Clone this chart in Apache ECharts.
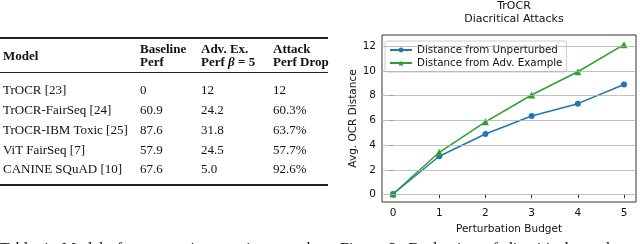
<!DOCTYPE html>
<html><head><meta charset="utf-8">
<script src="https://cdn.jsdelivr.net/npm/echarts@6/dist/echarts.min.js"></script>
<style>
html,body{margin:0;padding:0;background:#fff;}
#wrap{position:relative;width:640px;height:244px;overflow:hidden;}
#chart{position:absolute;left:0;top:0;width:640px;height:244px;}
#tbl{position:absolute;left:0;top:0;width:330px;height:244px;font-family:"Liberation Serif","DejaVu Serif",serif;font-size:13px;color:#111;}
.t{position:absolute;white-space:nowrap;line-height:14px;}
.b{font-weight:bold;}
.rule{position:absolute;left:0;background:#222;}
#cap{position:absolute;left:0;top:240px;width:640px;font-family:"Liberation Serif",serif;font-size:16px;line-height:18px;white-space:nowrap;color:#111;word-spacing:3px;}
</style></head>
<body><div id="wrap"><div id="chart"></div><div id="tbl"></div><div id="cap"></div></div>
<script>
// ---- data ----
const tableHeaders = [["Model"], ["Baseline", "Perf"], ["Adv. Ex.", "Perf <i>β</i> = 5"], ["Attack", "Perf Drop"]];
const models = ["TrOCR [23]", "TrOCR-FairSeq [24]", "TrOCR-IBM Toxic [25]", "ViT FairSeq [7]", "CANINE SQuAD [10]"];
const baselinePerf = ["0", "60.9", "87.6", "57.9", "67.6"];
const advPerf = ["12", "24.2", "31.8", "24.5", "5.0"];
const perfDrop = ["12", "60.3%", "63.7%", "57.7%", "92.6%"];

const budgets = [0, 1, 2, 3, 4, 5];
const distUnperturbed = [0.05, 3.1, 4.9, 6.35, 7.35, 8.9];
const distAdvExample = [0.05, 3.42, 5.88, 8.05, 9.93, 12.12];
const xTicks = [0, 1, 2, 3, 4, 5];
const yTicks = [0, 2, 4, 6, 8, 10, 12];

// ---- table ----
const tbl = document.getElementById('tbl');
const colX = [3, 140, 201, 273];
const rowY = [90, 110, 130, 150, 169];
function addText(x, y, html, cls) {
  const d = document.createElement('div');
  d.className = 't ' + (cls || '');
  d.style.left = x + 'px'; d.style.top = (y - 7) + 'px';
  d.innerHTML = html; tbl.appendChild(d);
}
function addRule(y, h) {
  const d = document.createElement('div');
  d.className = 'rule'; d.style.top = y + 'px'; d.style.height = h + 'px'; d.style.width = '328px';
  tbl.appendChild(d);
}
addRule(37, 1.5); addRule(72, 1); addRule(184, 1.5);
tableHeaders.forEach((h, i) => {
  if (h.length === 1) addText(colX[i], 56, h[0], 'b');
  else { addText(colX[i], 49, h[0], 'b'); addText(colX[i], 62, h[1], 'b'); }
});
const cols = [models, baselinePerf, advPerf, perfDrop];
cols.forEach((c, ci) => c.forEach((v, ri) => addText(colX[ci], rowY[ri], v)));
document.getElementById('cap').innerHTML =
  '<span style="position:absolute;left:0">Table 1: Models for comparison against attacks</span>' +
  '<span style="position:absolute;left:340px">Figure 3: Evaluation of diacritical attacks</span>';

// ---- chart ----
const font = '"DejaVu Sans", sans-serif';
const chart = echarts.init(document.getElementById('chart'), null, {renderer: 'canvas'});
chart.setOption({
  animation: false,
  title: {
    text: 'TrOCR\nDiacritical Attacks',
    left: 509, top: -5, textAlign: 'center',
    textStyle: {fontFamily: font, fontSize: 11, fontWeight: 'normal', color: '#111', lineHeight: 12.5}
  },
  grid: {left: 382, top: 35, width: 254, height: 167, show: true, borderColor: '#333', borderWidth: 1, backgroundColor: '#fff'},
  legend: {
    orient: 'vertical', left: 385, top: 41,
    backgroundColor: 'rgba(255,255,255,0.8)', borderColor: '#ccc', borderWidth: 1, borderRadius: 2,
    padding: [4, 4, 4, 4], itemGap: 3, itemWidth: 22, itemHeight: 6,
    textStyle: {fontFamily: font, fontSize: 10.3, color: '#111'},
    data: ['Distance from Unperturbed', 'Distance from Adv. Example']
  },
  xAxis: {
    type: 'value', min: -0.24, max: 5.26,
    name: 'Perturbation Budget', nameLocation: 'middle', nameGap: 14,
    nameTextStyle: {fontFamily: font, fontSize: 10.5, color: '#111'},
    axisLine: {show: false},
    axisTick: {show: true, length: 3.5, customValues: xTicks, lineStyle: {color: '#333'}},
    axisLabel: {customValues: xTicks, fontFamily: font, fontSize: 10.5, color: '#111', margin: 6},
    splitLine: {show: false}
  },
  yAxis: {
    type: 'value', min: -0.6, max: 12.9,
    name: 'Avg. OCR Distance', nameLocation: 'middle', nameGap: 23, nameRotate: 90,
    nameTextStyle: {fontFamily: font, fontSize: 10.5, color: '#111'},
    axisLine: {show: false},
    axisTick: {show: true, length: 3.5, customValues: yTicks, lineStyle: {color: '#333'}},
    axisLabel: {customValues: yTicks, fontFamily: font, fontSize: 10.5, color: '#111', margin: 6},
    splitLine: {show: false}
  },
  series: [
    {
      name: 'grid', type: 'line', data: [], silent: true, z: 1,
      markLine: {silent: true, symbol: 'none', label: {show: false}, animation: false,
        lineStyle: {color: '#b0b0b0', width: 0.8, type: 'solid'},
        data: yTicks.map(v => ({yAxis: v}))}
    },
    {
      name: 'Distance from Unperturbed', type: 'line', z: 3,
      data: budgets.map((b, i) => [b, distUnperturbed[i]]),
      color: '#1f77b4', symbol: 'circle', symbolSize: 6,
      lineStyle: {width: 1.5}, itemStyle: {color: '#1f77b4'}
    },
    {
      name: 'Distance from Adv. Example', type: 'line', z: 3,
      data: budgets.map((b, i) => [b, distAdvExample[i]]),
      color: '#2ca02c', symbol: 'triangle', symbolSize: 7,
      lineStyle: {width: 1.5}, itemStyle: {color: '#2ca02c'}
    }
  ]
});
</script></body></html>
